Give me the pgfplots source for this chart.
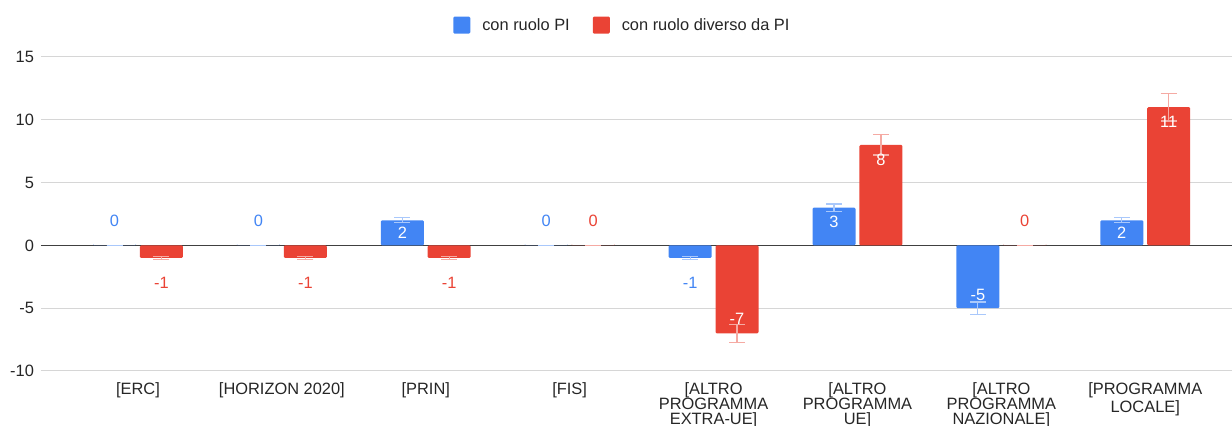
\documentclass[border=0pt]{standalone}
\usepackage{fontspec}
\setmainfont{Liberation Sans}
\usepackage{pgfplots}
\pgfplotsset{compat=1.18}
\definecolor{gblue}{HTML}{4285F4}
\definecolor{gred}{HTML}{EA4335}
\definecolor{gblueerr}{HTML}{A9C8FB}
\definecolor{grederr}{HTML}{F5AAA3}
\definecolor{gridgray}{HTML}{D6D6D6}
% bars sit at category -/+ 0.163 (bar shift 0), so error bars and labels line up
\pgfplotsset{
  bars/.style={ybar, bar width=21.5pt, bar shift=0pt, draw=none, rounded corners=0.6pt},
  berr/.style={error bars/.cd, y dir=both, y explicit,
    error bar style={gblueerr, line width=0.6pt, sharp corners},
    error mark options={rotate=90, mark size=4pt, gblueerr, line width=0.6pt}},
  rerr/.style={error bars/.cd, y dir=both, y explicit,
    error bar style={grederr, line width=0.6pt, sharp corners},
    error mark options={rotate=90, mark size=4pt, grederr, line width=0.6pt}},
  lbl/.style={only marks, mark=none, forget plot,
    nodes near coords, point meta=explicit symbolic,
    nodes near coords align=center},
}
\begin{document}
\begin{tikzpicture}[font=\fontsize{8.2}{9.8}\selectfont]
\begin{axis}[
  at={(0,0)}, anchor=south west,
  scale only axis, width=595.5pt, height=157pt,
  xmin=-0.674, xmax=7.603, ymin=-10, ymax=15,
  xtick={0,...,7},
  xticklabels={{[ERC]},{[HORIZON 2020]},{[PRIN]},{[FIS]},{[ALTRO\\PROGRAMMA\\EXTRA-UE]},{[ALTRO\\PROGRAMMA\\UE]},{[ALTRO\\PROGRAMMA\\NAZIONALE]},{[PROGRAMMA\\LOCALE]}},
  xticklabel style={align=center, font=\fontsize{8.2}{7.5}\selectfont, text=black!85, yshift=-2.5pt},
  ytick={-10,-5,0,5,10,15},
  yticklabel style={text=black!85},
  ymajorgrids, grid style={gridgray, line width=0.5pt},
  axis line style={draw=none}, major tick length=0pt,
  /pgf/number format/assume math mode=true,
  legend style={at={(0.489,1.1)}, anchor=center, draw=none, fill=none,
    legend columns=2, font=\fontsize{8.2}{9.8}\selectfont, text=black!85,
    /tikz/every odd column/.append style={column sep=4pt},
    /tikz/every even column/.append style={column sep=9.5pt}},
  legend image code/.code={\fill[#1, draw=none, rounded corners=0.6pt] (0pt,-4pt) rectangle (8.5pt,4.5pt);},
]
\draw[black!75, line width=0.6pt] (axis cs:-0.674,0) -- (axis cs:7.603,0);
\addplot[bars, fill=gblue, berr]
  coordinates {(-0.163,0) +- (0,0) (0.837,0) +- (0,0) (1.837,2) +- (0,0.2) (2.837,0) +- (0,0)
               (3.837,-1) +- (0,0.1) (4.837,3) +- (0,0.3) (5.837,-5) +- (0,0.5) (6.837,2) +- (0,0.2)};
\addlegendentry{con ruolo PI}
\addplot[bars, fill=gred, rerr]
  coordinates {(0.163,-1) +- (0,0.1) (1.163,-1) +- (0,0.1) (2.163,-1) +- (0,0.1) (3.163,0) +- (0,0)
               (4.163,-7) +- (0,0.7) (5.163,8) +- (0,0.8) (6.163,0) +- (0,0) (7.163,11) +- (0,1.1)};
\addlegendentry{con ruolo diverso da PI}
% value labels
\addplot[lbl, every node near coord/.append style={text=gblue}]
  coordinates {(-0.163,1.95)[0] (0.837,1.95)[0] (2.837,1.95)[0] (3.837,-3.0)[-1]};
\addplot[lbl, every node near coord/.append style={text=white}]
  coordinates {(1.837,1.04)[2] (4.837,1.86)[3] (5.837,-3.95)[-5] (6.837,1.04)[2]};
\addplot[lbl, every node near coord/.append style={text=gred}]
  coordinates {(0.163,-3.0)[-1] (1.163,-3.0)[-1] (2.163,-3.0)[-1] (3.163,1.95)[0] (6.163,1.95)[0]};
\addplot[lbl, every node near coord/.append style={text=white}]
  coordinates {(4.163,-5.85)[-7] (5.163,6.8)[8] (7.163,9.8)[11]};
\end{axis}
\pgfresetboundingbox
\path (-20.5pt,-27.5pt) rectangle (595.5pt,185.5pt);
\end{tikzpicture}
\end{document}
